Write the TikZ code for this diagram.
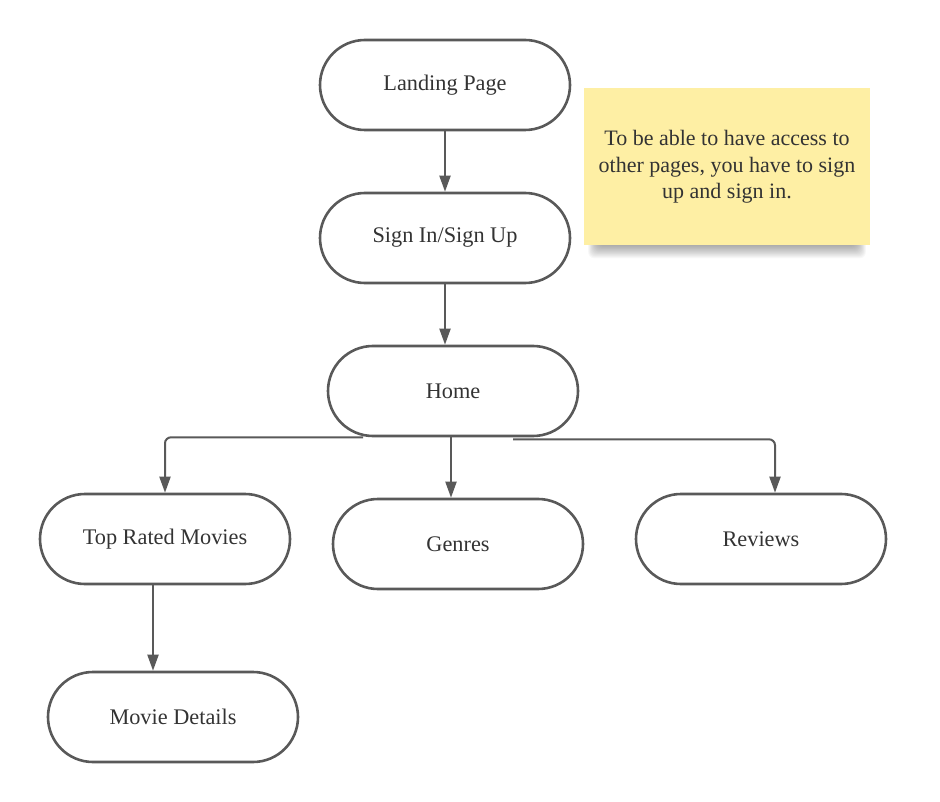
\documentclass[tikz,border=0pt]{standalone}
\usepackage{fontspec}
\setmainfont{Liberation Serif}
\usetikzlibrary{arrows.meta}
\definecolor{linegray}{HTML}{595959}
\definecolor{txtgray}{HTML}{333333}
\definecolor{notey}{HTML}{FEEFA4}
\begin{document}
\begin{tikzpicture}[x=1pt,y=-1pt,
  pill/.style={draw=linegray, line width=2.6pt, rounded corners=45pt, minimum width=250pt, minimum height=90pt, inner sep=0pt, font=\fontsize{22.3}{26}\selectfont, text=txtgray},
  conn/.style={draw=linegray, line width=2pt, -{Triangle[length=16pt,width=11pt]}},
  notetext/.style={font=\fontsize{22}{26.5}\selectfont, text=txtgray, align=center}]
\useasboundingbox (0,0) rectangle (940,802);
% nodes
\node[pill] (landing) at (445,85) {Landing Page};
\node[pill] (signin) at (445,238) {Sign In/Sign Up};
\node[pill] (home) at (453,391) {Home};
\node[pill] (top) at (165,539) {Top Rated Movies};
\node[pill] (genres) at (458,544) {Genres};
\node[pill] (reviews) at (761,539) {Reviews};
\node[pill] (details) at (173,717) {Movie Details};
% sticky note shadow
\foreach \i in {1,...,14}{
  \fill[black, opacity=0.028, rounded corners=6pt] (598-\i*0.7,104+\i*0.5) rectangle (856+\i*0.7,245+\i*0.95);
}
\node[fill=notey, minimum width=286pt, minimum height=157pt, inner sep=0pt] (note) at (727,166.5) {};
\node[notetext] (notet) at (727,167) {To be able to have access to\\other pages, you have to sign\\up and sign in.};
% connectors
\draw[conn] (landing.south) -- (signin.north);
\draw[conn] (signin.south) -- (signin.south |- home.north);
\draw[conn, rounded corners=6pt] ([xshift=-90pt]home.south) -| (top.north);
\draw[conn] ([xshift=-2pt]home.south) -- ([xshift=-2pt]home.south |- genres.north);
\draw[conn, rounded corners=6pt] ([xshift=60pt,yshift=-2pt]home.south) -| ([xshift=14pt]reviews.north);
\draw[conn] ([xshift=-12pt]top.south) -- ([xshift=-12pt]top.south |- details.north);
\end{tikzpicture}
\end{document}
